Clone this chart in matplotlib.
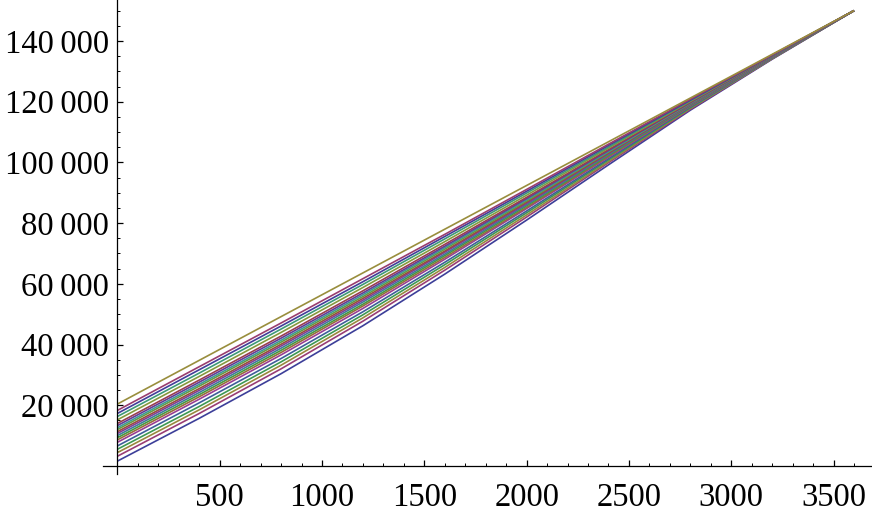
import colorsys
import matplotlib
matplotlib.use('Agg')
import matplotlib.pyplot as plt
from matplotlib.ticker import FixedLocator, FuncFormatter

# x positions where the curves were read
xs = [0, 400, 800, 1200, 1600, 2000, 2400, 2800, 3200, 3600]

# one row per curve, bottom to top
curves = [
    [1600, 15700, 30400, 46200, 63200, 81000, 99200, 117200, 134000, 150000],
    [3200, 17300, 32000, 47700, 64500, 82000, 99900, 117500, 134100, 150000],
    [4400, 18500, 33200, 48800, 65400, 82700, 100300, 117800, 134200, 150000],
    [5500, 19600, 34300, 49800, 66300, 83400, 100800, 118000, 134300, 150000],
    [6600, 20800, 35400, 50800, 67100, 84000, 101200, 118300, 134400, 150000],
    [7800, 22000, 36600, 51900, 68100, 84800, 101700, 118500, 134500, 150000],
    [8600, 22800, 37400, 52700, 68700, 85200, 102000, 118700, 134600, 150000],
    [9300, 23500, 38100, 53300, 69300, 85700, 102300, 118800, 134700, 150000],
    [10000, 24200, 38800, 54000, 69800, 86100, 102600, 119000, 134700, 150000],
    [10700, 24900, 39500, 54600, 70400, 86500, 102900, 119100, 134800, 150000],
    [11300, 25500, 40100, 55200, 70800, 86900, 103100, 119300, 134800, 150000],
    [12000, 26300, 40800, 55800, 71400, 87300, 103400, 119400, 134900, 150000],
    [12600, 26900, 41400, 56400, 71900, 87700, 103600, 119500, 134900, 150000],
    [13300, 27600, 42100, 57000, 72400, 88100, 103900, 119700, 135000, 150000],
    [14000, 28300, 42800, 57700, 73000, 88500, 104200, 119800, 135100, 150000],
    [15200, 29500, 44000, 58800, 73900, 89200, 104700, 120100, 135200, 150000],
    [16300, 30600, 45100, 59800, 74800, 89900, 105100, 120300, 135300, 150000],
    [17300, 31700, 46100, 60700, 75600, 90500, 105600, 120500, 135300, 150000],
    [18300, 32700, 47100, 61700, 76300, 91100, 106000, 120800, 135400, 150000],
    [20400, 34800, 49200, 63600, 78000, 92400, 106800, 121200, 135600, 150000],
]

x_ticks = [500, 1000, 1500, 2000, 2500, 3000, 3500]
y_ticks = [20000, 40000, 60000, 80000, 100000, 120000, 140000]

plt.rcParams['font.family'] = ['Liberation Serif', 'DejaVu Serif']

fig = plt.figure(figsize=(8.72, 5.13), dpi=100)
ax = fig.add_axes([0, 0, 1, 1])

# old Mathematica default plot colours: hue steps of ~0.236
for i, ys in enumerate(curves):
    h = (0.6636 + 0.236 * i) % 1.0
    col = colorsys.hsv_to_rgb(h, 0.6, 0.6)
    ax.plot(xs, ys, color=col, lw=1.2, solid_capstyle='butt')

ax.set_xlim(-574, 3688)
ax.set_ylim(-15500, 153500)

for s in ['top', 'right']:
    ax.spines[s].set_visible(False)
ax.spines['left'].set_position(('data', 0))
ax.spines['bottom'].set_position(('data', 0))
ax.spines['bottom'].set_bounds(-70, 3688)
ax.spines['left'].set_bounds(-2500, 153500)
ax.spines['left'].set_linewidth(0.9)
ax.spines['bottom'].set_linewidth(0.9)

ax.set_xticks(x_ticks)
ax.set_yticks(y_ticks)
ax.xaxis.set_minor_locator(FixedLocator(list(range(100, 3700, 100))))
ax.yaxis.set_minor_locator(FixedLocator(list(range(5000, 155000, 5000))))

fmt = FuncFormatter(lambda v, p: '{:,}'.format(int(v)).replace(',', '\u2009'))
ax.yaxis.set_major_formatter(fmt)

ax.tick_params(which='major', direction='in', length=4.5, width=0.9,
               labelsize=23.5, colors='black')
ax.tick_params(which='minor', direction='in', length=2.5, width=0.7)
ax.tick_params(axis='x', which='major', pad=12)
ax.tick_params(axis='y', which='major', pad=6)
ax.patch.set_alpha(0)

fig.savefig('out.png', dpi=100, facecolor='white')
